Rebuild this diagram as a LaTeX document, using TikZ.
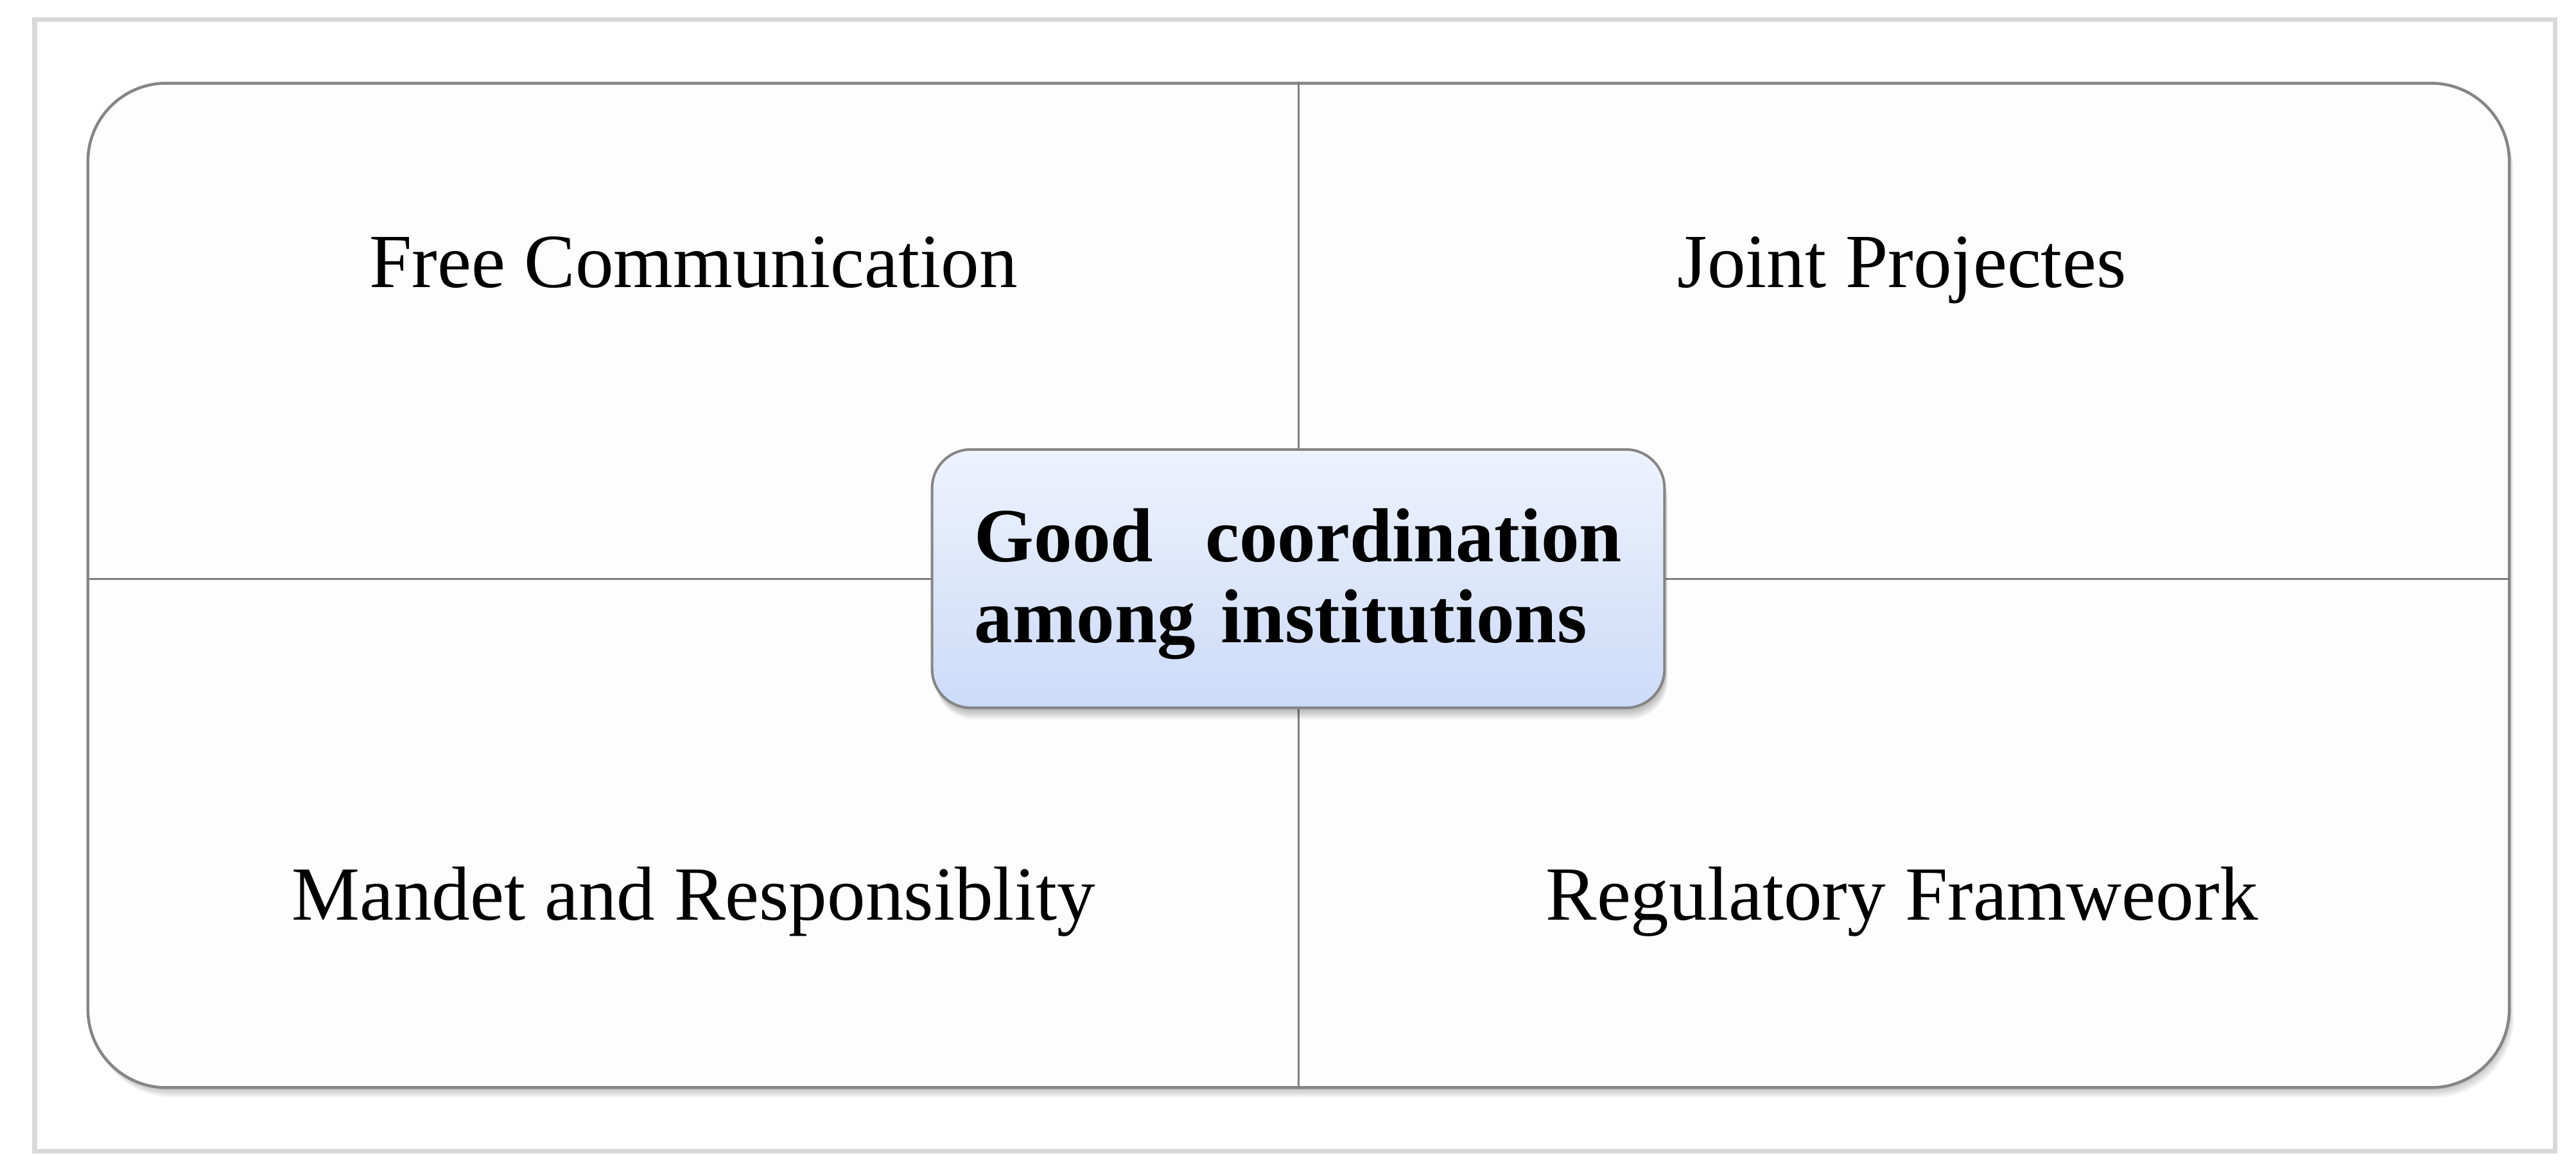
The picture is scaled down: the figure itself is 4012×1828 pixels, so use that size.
\documentclass[tikz,border=0pt]{standalone}
\usepackage{fontspec}
\setmainfont{Liberation Serif}
\definecolor{framegray}{HTML}{D9D9D9}
\definecolor{linegray}{HTML}{808080}
\definecolor{edgegray}{HTML}{858585}
\definecolor{boxtop}{HTML}{EEF2FD}
\definecolor{boxbot}{HTML}{CCDBF8}
\definecolor{panelfill}{HTML}{FDFDFD}
\begin{document}
\begin{tikzpicture}[x=0.01cm,y=-0.01cm,
  lbl/.style={font=\fontsize{33.9pt}{35.6pt}\selectfont, anchor=base, inner sep=0pt},
  panelbox/.style={draw=edgegray, line width=0.045cm, fill=panelfill, rounded corners=1.22cm,
    minimum width=37.69cm, minimum height=15.63cm, inner sep=0pt},
  hubbox/.style={draw=edgegray, line width=0.04cm, top color=boxtop, bottom color=boxbot,
    rounded corners=0.6cm, minimum width=11.4cm, inner sep=0pt, text width=10.08cm,
    text height=1.75cm, text depth=2.27cm, align=left,
    font=\fontsize{33.9pt}{35.6pt}\selectfont\bfseries},
  divline/.style={draw=linegray, line width=0.03cm}]
\useasboundingbox (0,0) rectangle (4012,1828);
\fill[white] (0,0) rectangle (4012,1828);
\draw[framegray, line width=0.07cm] (54,31) rectangle (3979,1792);
% soft shadow of the panel
\foreach \s in {2,4,...,16}
  \fill[black, opacity=0.03, rounded corners=1.22cm] ({138+0.5*\s},{130+\s}) rectangle ({3907+0.5*\s},{1693+\s});
\node[panelbox] (panel) at (2022.5,911.5) {};
\coordinate (mid) at (2022,901);
\draw[divline] (panel.north) -- (panel.south);
\draw[divline] (panel.west |- mid) -- (panel.east |- mid);
\node[lbl] (fc) at (1080,448) {Free Communication};
\node[lbl] (jp) at (2962,448) {Joint Projectes};
\node[lbl] (mr) at (1080,1432) {Mandet and Responsiblity};
\node[lbl] (rf) at (2962,1432) {Regulatory Framweork};
% soft shadow of the hub
\foreach \s in {2,4,...,18}
  \fill[black, opacity=0.035, rounded corners=0.6cm] ({1452+0.3*\s},{700+\s}) rectangle ({2592+0.3*\s},{1102+\s});
\node[hubbox] (hub) at (mid) {\makebox[\linewidth][l]{Good\hfill coordination}\\among institutions};
\end{tikzpicture}
\end{document}
